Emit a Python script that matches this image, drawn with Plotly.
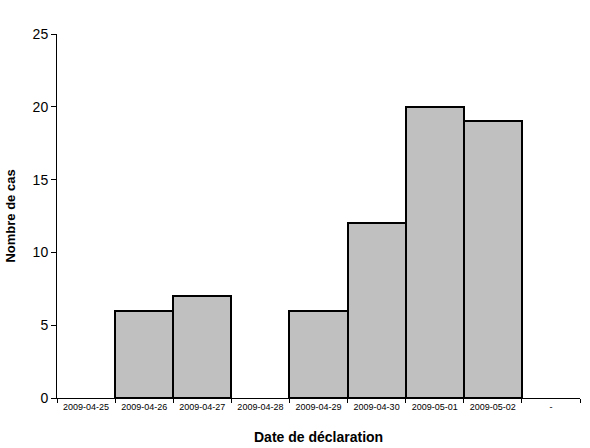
import plotly.graph_objects as go

categories = ["2009-04-25", "2009-04-26", "2009-04-27", "2009-04-28", "2009-04-29",
              "2009-04-30", "2009-05-01", "2009-05-02", "-"]
cases = [0, 6, 7, 0, 6, 12, 20, 19, 0]
y_ticks = [0, 5, 10, 15, 20, 25]

outline = [2 if v > 0 else 0 for v in cases]

fig = go.Figure()
fig.add_trace(go.Bar(
    x=categories, y=cases,
    marker=dict(color="#C0C0C0", line=dict(color="black", width=outline)),
    width=1,
))
fig.update_layout(
    width=590, height=448,
    margin=dict(l=53, r=10, t=34, b=50),
    paper_bgcolor="white", plot_bgcolor="white",
    bargap=0, showlegend=False,
    font=dict(family="Liberation Sans, Arial, sans-serif", color="black"),
    annotations=[dict(
        text="<b>Date de déclaration</b>", xref="paper", yref="paper",
        x=0.5, y=0, yanchor="middle", yshift=-39, showarrow=False,
        font=dict(size=14),
    )],
)
fig.update_xaxes(
    type="category", tickson="boundaries", ticks="outside", ticklen=4,
    tickcolor="black", showline=True, linecolor="black", linewidth=1,
    showgrid=False, tickfont=dict(size=9), tickangle=0,
    range=[-0.5, 8.5],
)
fig.update_yaxes(
    range=[0, 25], tickvals=y_ticks, ticks="outside", ticklen=5, tickcolor="black",
    showline=True, linecolor="black", linewidth=1, showgrid=False, zeroline=False,
    tickfont=dict(size=14),
    title=dict(text="<b>Nombre de cas</b>", font=dict(size=13), standoff=14),
)
fig.write_html("out.html")
